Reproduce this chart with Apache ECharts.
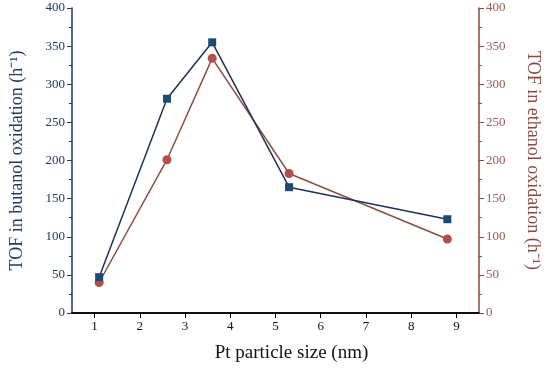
<!DOCTYPE html>
<html><head><meta charset="utf-8">
<script src="https://cdn.jsdelivr.net/npm/echarts@6/dist/echarts.min.js"></script>
<style>html,body{margin:0;padding:0;background:#fff}#c{width:550px;height:371px}</style>
</head><body><div id="c"></div>
<script>
const sizes = [1.1, 2.6, 3.6, 5.3, 8.8];
const butanolTOF = [47, 281, 355, 165, 123];
const ethanolTOF = [40, 201, 334, 183, 97];
const xTitle = 'Pt particle size (nm)';
const yLeftTitle = 'TOF in butanol oxidation (h⁻¹)';
const yRightTitle = 'TOF in ethanol oxidation (h⁻¹)';

const navy = '#1d3a60';
const brown = '#8a4a45';
const font = 'Liberation Serif';
const chart = echarts.init(document.getElementById('c'));
chart.setOption({
  animation: false,
  grid: {left: 69, right: 66.5, top: 8, bottom: 58},
  xAxis: [{
    type: 'value', min: 0.5, max: 9.5, interval: 1,
    name: xTitle, nameLocation: 'middle', nameGap: 31,
    nameTextStyle: {fontFamily: font, fontSize: 19, color: '#111', padding: [0, 0, 0, 32]},
    axisLine: {show: true, lineStyle: {color: '#000', width: 1.5}},
    axisTick: {show: true, inside: false, length: 5, lineStyle: {color: '#000'}, customValues: [1,2,3,4,5,6,7,8,9]},
    minorTick: {show: true, splitNumber: 2, length: 3, lineStyle: {color: '#000'}},
    axisLabel: {fontFamily: font, fontSize: 13, color: '#111', margin: 7, customValues: [1,2,3,4,5,6,7,8,9]},
    splitLine: {show: false}
  }, {
    type: 'value', position: 'top', min: 0.5, max: 9.5,
    axisLine: {show: true, lineStyle: {color: '#000', width: 1.5}},
    axisTick: {show: false}, axisLabel: {show: false}, splitLine: {show: false}
  }],
  yAxis: [{
    type: 'value', min: 0, max: 400, interval: 50, position: 'left',
    name: yLeftTitle, nameLocation: 'middle', nameGap: 46, nameRotate: 90,
    nameTextStyle: {fontFamily: font, fontSize: 18, color: navy},
    axisLine: {show: true, lineStyle: {color: navy, width: 1.5}},
    axisTick: {show: true, length: 5, lineStyle: {color: navy}},
    minorTick: {show: true, splitNumber: 2, length: 3, lineStyle: {color: navy}},
    axisLabel: {fontFamily: font, fontSize: 13, color: navy, margin: 7},
    splitLine: {show: false}
  }, {
    type: 'value', min: 0, max: 400, interval: 50, position: 'right',
    name: yRightTitle, nameLocation: 'middle', nameGap: 45, nameRotate: -90,
    nameTextStyle: {fontFamily: font, fontSize: 18, color: brown},
    axisLine: {show: true, lineStyle: {color: brown, width: 1.5}},
    axisTick: {show: true, length: 5, lineStyle: {color: brown}},
    minorTick: {show: true, splitNumber: 2, length: 3, lineStyle: {color: brown}},
    axisLabel: {fontFamily: font, fontSize: 13, color: '#9a5a55', margin: 7},
    splitLine: {show: false}
  }],
  series: [{
    type: 'line', xAxisIndex: 0, yAxisIndex: 0,
    data: sizes.map((x, i) => [x, butanolTOF[i]]),
    symbol: 'rect', symbolSize: 8,
    lineStyle: {color: '#1f3158', width: 1.5},
    itemStyle: {color: '#1d4a72'}, z: 3
  }, {
    type: 'line', xAxisIndex: 0, yAxisIndex: 1,
    data: sizes.map((x, i) => [x, ethanolTOF[i]]),
    symbol: 'circle', symbolSize: 9,
    lineStyle: {color: '#8a5040', width: 1.5},
    itemStyle: {color: '#b24f4a'}, z: 2
  }]
});
</script></body></html>
